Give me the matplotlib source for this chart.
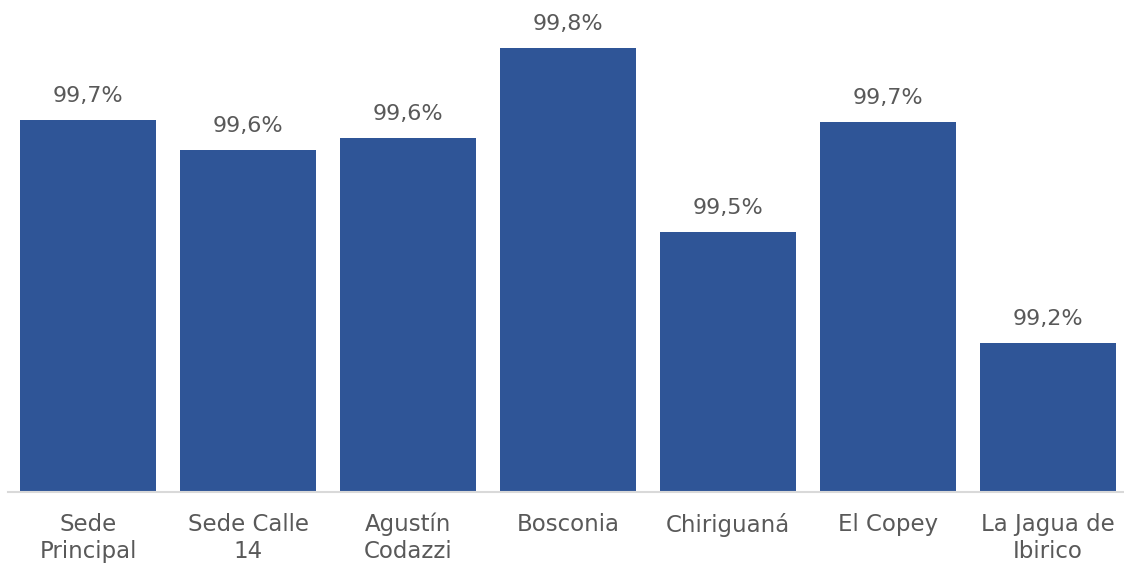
import matplotlib
matplotlib.use("Agg")
import matplotlib.pyplot as plt

categories = ["Sede\nPrincipal", "Sede Calle\n14", "Agustín\nCodazzi", "Bosconia",
              "Chiriguaná", "El Copey", "La Jagua de\nIbirico"]
values = [99.679, 99.619, 99.643, 99.823, 99.455, 99.675, 99.233]

bar_color = "#2F5597"
text_color = "#595959"
font = "DejaVu Sans"

fig = plt.figure(figsize=(11.24, 5.63), dpi=100)
ax = fig.add_axes([8 / 1124, 71 / 563, 1120 / 1124, 482 / 563])

x = range(len(categories))
bars = ax.bar(x, values, width=0.85, color=bar_color, zorder=2)
ax.set_ylim(98.935, 99.899)
ax.set_xlim(-0.5, len(categories) - 0.5)

for b, v in zip(bars, values):
    ax.annotate(f"{v:.1f}%".replace(".", ","), (b.get_x() + b.get_width() / 2, v),
                xytext=(0, 10), textcoords="offset points", ha="center", va="bottom",
                fontsize=16, color=text_color, family=font)

ax.set_xticks(list(x))
ax.set_xticklabels(categories, fontsize=16.5, color=text_color, family=font, linespacing=1.22)
ax.tick_params(axis="x", length=0, pad=15)
ax.set_yticks([])
for s in ["top", "right", "left"]:
    ax.spines[s].set_visible(False)
ax.spines["bottom"].set_color("#D9D9D9")
ax.spines["bottom"].set_linewidth(1.5)

fig.savefig("out.png", dpi=100)
